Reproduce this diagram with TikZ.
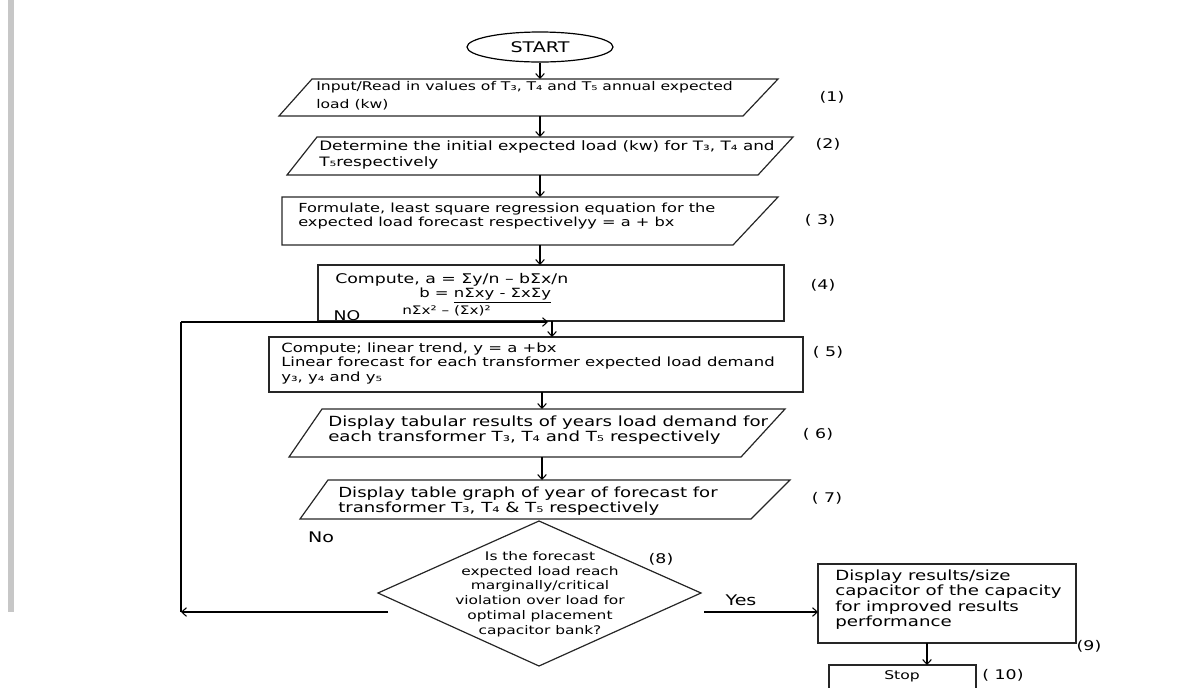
\documentclass[tikz,border=0pt]{standalone}
\usepackage{fontspec}
\setmainfont{DejaVu Sans}[FakeStretch=1.3]
\usetikzlibrary{arrows.meta,shapes.geometric}

\tikzset{
  box/.style={draw=black!85, line width=0.9pt},
  arr/.style={-{Straight Barb[length=3.5pt,width=6.5pt]}, line width=0.8pt},
  txt/.style={anchor=north west, inner sep=0pt, align=left},
  lbl/.style={inner sep=0pt, font=\fontsize{10}{12}\selectfont},
}
\newcommand{\fsz}[2]{\fontsize{#1}{#2}\selectfont}

\begin{document}
\begin{tikzpicture}[x=0.75pt,y=-0.75pt]
\useasboundingbox (0,0) rectangle (1178,687);

% margin bar
\fill[black!22] (8,0) rectangle (14,612);

\node[draw, ellipse, line width=0.9pt, minimum width=109.5pt, minimum height=22.5pt,
  inner sep=0pt, font=\fsz{11}{12}] (start) at (540,47) {START};

% (1)
\draw[box] (312,79) -- (778,79) -- (743,116) -- (279,116) -- cycle;
\coordinate (in1) at (540,79);
\coordinate (out1) at (540,116);
\node[txt, font=\fsz{9}{13.5}] (t1) at (316,81.5)
  {Input/Read in values of T₃, T₄ and T₅ annual expected\\load (kw)};

% (2)
\draw[box] (317,137) -- (793,137) -- (758,175) -- (287,175) -- cycle;
\coordinate (in2) at (540,137);
\coordinate (out2) at (540,175);
\node[txt, font=\fsz{9.7}{12}] (t2) at (319,140.5)
  {Determine the initial expected load (kw) for T₃, T₄ and\\T₅respectively};

% (3)
\draw[box] (282,197) -- (778,197) -- (733,245) -- (282,245) -- cycle;
\coordinate (in3) at (540,197);
\coordinate (out3) at (540,245);
\node[txt, font=\fsz{9.35}{10.5}] (t3) at (298,202.5)
  {Formulate, least square regression equation for the\\expected load forecast respectivelyy = a + bx};

% (4)
\draw[box] (318,265) rectangle (784,321);
\coordinate (in4) at (540,265);
\coordinate (out4) at (552,321);
\node[txt, font=\fsz{10}{12}] (t4a) at (335,273) {Compute, a = Σy/n – bΣx/n};
\node[txt, font=\fsz{9.5}{12}] (t4b) at (419,287.5) {b = \underline{nΣxy - ΣxΣy}};
\node[txt, font=\fsz{8.8}{12}] (t4c) at (402,305.5) {nΣx² – (Σx)²};
\node[lbl] (no1) at (347,316) {NO};

% (5)
\draw[box] (269,337) rectangle (803,392);
\coordinate (in5) at (552,337);
\coordinate (out5) at (542,392);
\node[txt, font=\fsz{9.5}{10.9}] (t5) at (281,342.5)
  {Compute; linear trend, y = a +bx\\Linear forecast for each transformer expected load demand\\y₃, y₄ and y₅};

% (6)
\draw[box] (322,409) -- (785,409) -- (741,457) -- (289,457) -- cycle;
\coordinate (in6) at (542,409);
\coordinate (out6) at (542,457);
\node[txt, font=\fsz{10.5}{11.25}] (t6) at (328,415.5)
  {Display tabular results of years load demand for\\each transformer T₃, T₄ and T₅ respectively};

% (7)
\draw[box] (328,480) -- (790,480) -- (751,519) -- (300,519) -- cycle;
\coordinate (in7) at (542,480);
\node[txt, font=\fsz{10.45}{11.25}] (t7) at (338,486.5)
  {Display table graph of year of forecast for\\transformer T₃, T₄ \& T₅ respectively};

% (8) decision
\draw[box] (539,521) -- (701,593) -- (539,666) -- (378,593) -- cycle;
\node[inner sep=0pt, align=center, font=\fsz{8.9}{11.1}] (q8) at (540,594)
  {Is the forecast\\expected load reach\\marginally/critical\\violation over load for\\optimal placement\\capacitor bank?};

% (9)
\draw[box] (818,564) rectangle (1076,643);
\coordinate (in9) at (818,612);
\coordinate (out9) at (927,643);
\node[txt, font=\fsz{10.5}{11.5}] (t9) at (835,569.5)
  {Display results/size\\capacitor of the capacity\\for improved results\\performance};

% (10)
\draw[box] (829,665) rectangle (976,705);
\coordinate (in10) at (927,665);
\node[inner sep=0pt, font=\fsz{9}{10}] (t10) at (902,676) {Stop};

% step numbers
\node[lbl] (n1) at (832,97) {(1)};
\node[lbl] (n2) at (828,144) {(2)};
\node[lbl] (n3) at (820,220) {( 3)};
\node[lbl] (n4) at (823,285) {(4)};
\node[lbl] (n5) at (828,352) {( 5)};
\node[lbl] (n6) at (818,434) {( 6)};
\node[lbl] (n7) at (827,498) {( 7)};
\node[lbl] (n8) at (661,559) {(8)};
\node[lbl] (n9) at (1089,646) {(9)};
\node[lbl] (n10) at (1003,675) {( 10)};

\node[lbl, font=\fsz{11}{12}] (no2) at (321,537) {No};
\node[lbl, font=\fsz{11}{12}] (yes) at (741,600) {Yes};

% flow
\draw[arr] (start) -- (in1);
\draw[arr] (out1) -- (in2);
\draw[arr] (out2) -- (in3);
\draw[arr] (out3) -- (in4);
\draw[arr] (out4) -- (in5);
\draw[arr] (out5) -- (in6);
\draw[arr] (out6) -- (in7);

% loop back
\coordinate (nA) at (388,612);
\coordinate (nB) at (181,612);
\coordinate (nC) at (181,322);
\coordinate (nD) at (548,322);
\draw[arr] (nA) -- (nB);
\draw[line width=0.8pt] (nB) -- (nC);
\draw[arr] (nC) -- (nD);

\coordinate (yA) at (704,612);
\draw[arr] (yA) -- (in9);
\draw[arr] (out9) -- (in10);

\end{tikzpicture}
\end{document}
